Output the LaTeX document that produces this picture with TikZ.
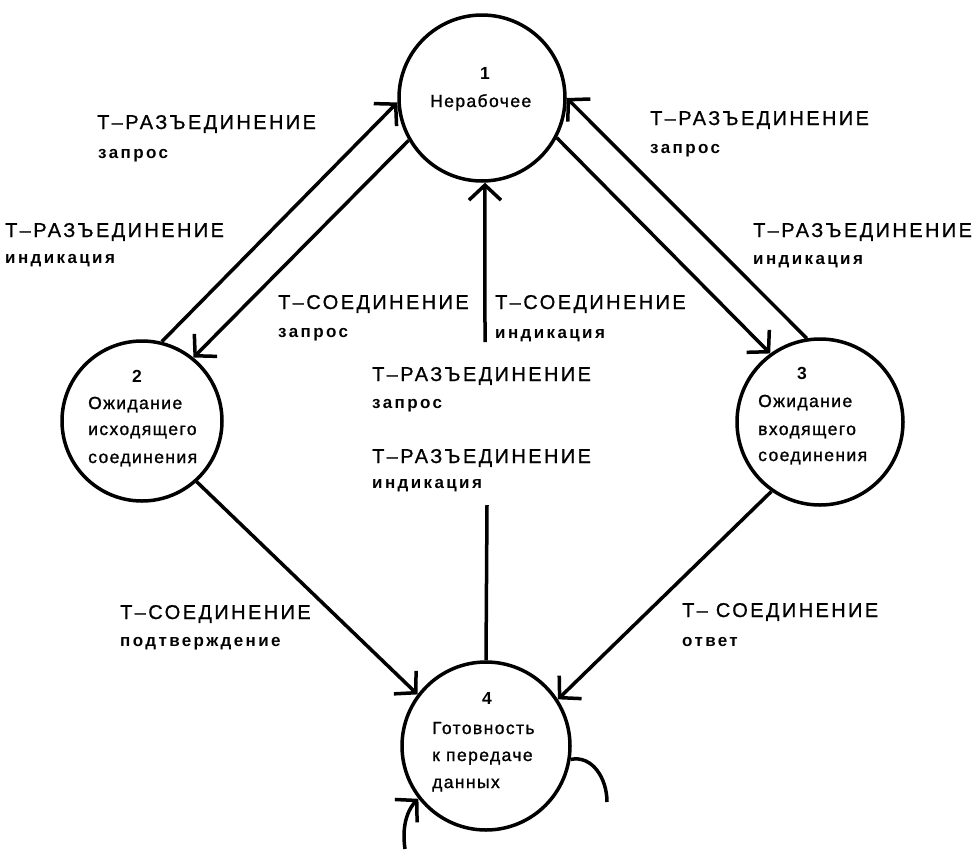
\documentclass[tikz,border=0pt]{standalone}
\usepackage{fontspec}
\usetikzlibrary{arrows.meta}
\newfontfamily\capf[LetterSpace=12,FakeBold=0.8]{Liberation Sans}
\newfontfamily\lowf[LetterSpace=14]{Liberation Sans}
\newfontfamily\circf[LetterSpace=8,FakeBold=1.2]{Liberation Sans}
\tikzset{
  state/.style={circle, draw, line width=3.5pt, minimum size=166pt, inner sep=0pt},
  conn/.style={line width=3.5pt},
  arr/.style={conn, -{Straight Barb[length=15pt,width=32pt]}},
  caplab/.style={anchor=base west, inner sep=0pt, font=\capf\fontsize{20}{20}\selectfont},
  lowlab/.style={anchor=base west, inner sep=0pt, font=\lowf\bfseries\fontsize{17}{17}\selectfont},
  ctext/.style={anchor=base west, inner sep=0pt, font=\circf\fontsize{17.5}{20}\selectfont},
  cnum/.style={anchor=base, inner sep=0pt, font=\lowf\bfseries\fontsize{17.5}{20}\selectfont}
}
\begin{document}
\begin{tikzpicture}[x=1pt,y=-1pt]
\useasboundingbox (0,0) rectangle (980,849);
% states
\node[state] (c1) at (482,98) {};
\node[state, minimum size=160pt] (c2) at (142,421) {};
\node[state] (c3) at (820,422) {};
\node[state, minimum size=168pt] (c4) at (486,746) {};
% state texts
\node[cnum] (n1) at (485,79) {1};
\node[ctext] (t1) at (430,107) {Нерабочее};
\node[cnum] (n2) at (137,382) {2};
\node[ctext] (t2a) at (88,409) {Ожидание};
\node[ctext] (t2b) at (88,435) {исходящего};
\node[ctext] (t2c) at (88,463) {соединения};
\node[cnum] (n3) at (802,379) {3};
\node[ctext] (t3a) at (758,407) {Ожидание};
\node[ctext] (t3b) at (758,435) {входящего};
\node[ctext] (t3c) at (758,461) {соединения};
\node[cnum] (n4) at (487,704) {4};
\node[ctext] (t4a) at (432,734) {Готовность};
\node[ctext] (t4b) at (432,761) {к передаче};
\node[ctext] (t4c) at (432,788) {данных};
% connectors
\draw[arr] (c2.76) -- (c1.183.5);
\draw[arr] (c1.210) -- (c2.51);
\draw[arr] (c3.99) -- (c1.0);
\draw[arr] (c1.-28) -- (c3.126);
\coordinate (m1) at (485,342);
\draw[arr] (m1) -- (c1.-88);
\coordinate (m2) at (487,505);
\draw[conn] (m2) -- (c4.north);
\draw[arr] (c2.-48) -- (c4.143);
\draw[arr] (c3.235.6) -- (c4.33.5);
\coordinate (l1) at (607,802);
\draw[conn] (c4.-9) .. controls (592,755) and (607,778) .. (l1);
\coordinate (l2) at (405,849);
\draw[arr] (l2) .. controls (401,822) and (410,807) .. (c4.218.5);
% labels
\node[caplab] (a1) at (97,129) {Т–РАЗЪЕДИНЕНИЕ};
\node[lowlab] (a2) at (98,158) {запрос};
\node[caplab] (b1) at (5,237) {Т–РАЗЪЕДИНЕНИЕ};
\node[lowlab] (b2) at (5,263) {индикация};
\node[caplab] (d1) at (278,309) {Т–СОЕДИНЕНИЕ};
\node[lowlab] (d2) at (278,337) {запрос};
\node[caplab] (e1) at (495,309) {Т–СОЕДИНЕНИЕ};
\node[lowlab] (e2) at (495,338) {индикация};
\node[caplab] (f1) at (372,381) {Т–РАЗЪЕДИНЕНИЕ};
\node[lowlab] (f2) at (372,408) {запрос};
\node[caplab] (g1) at (372,463) {Т–РАЗЪЕДИНЕНИЕ};
\node[lowlab] (g2) at (372,488) {индикация};
\node[caplab] (h1) at (650,125) {Т–РАЗЪЕДИНЕНИЕ};
\node[lowlab] (h2) at (650,153) {запрос};
\node[caplab] (i1) at (753,237) {Т–РАЗЪЕДИНЕНИЕ};
\node[lowlab] (i2) at (753,264) {индикация};
\node[caplab] (j1) at (120,619) {Т–СОЕДИНЕНИЕ};
\node[lowlab] (j2) at (120,646) {подтверждение};
\node[caplab] (k1) at (682,617) {Т– СОЕДИНЕНИЕ};
\node[lowlab] (k2) at (682,646) {ответ};
\end{tikzpicture}
\end{document}
